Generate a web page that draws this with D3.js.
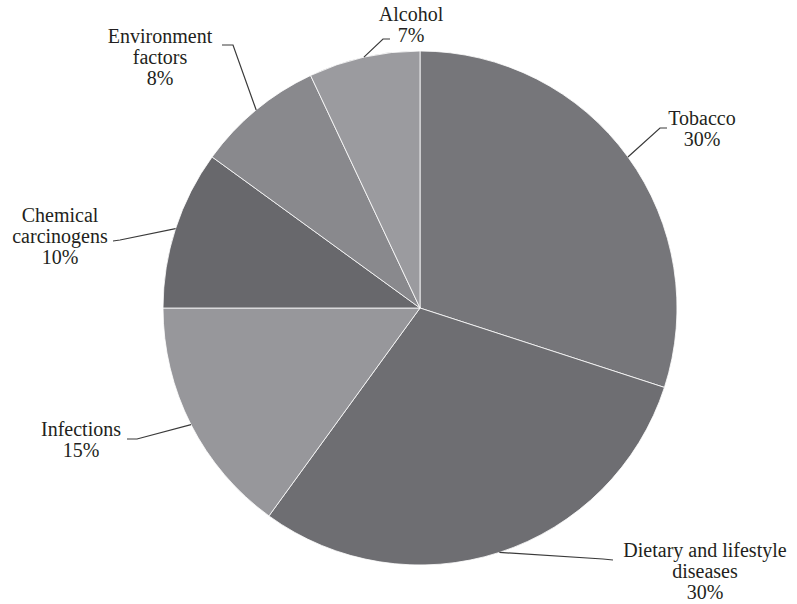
<!DOCTYPE html>
<html>
<head>
<meta charset="utf-8">
<script src="https://cdn.jsdelivr.net/npm/d3@7"></script>
<style>
  html, body { margin: 0; padding: 0; background: #fff; }
  svg text { font-family: "Liberation Serif", "DejaVu Serif", serif; fill: #231f20; }
</style>
</head>
<body>
<svg id="chart" width="797" height="604"></svg>
<script>
// Causes of cancer, share of cases (%)
const categories = ["Tobacco", "Dietary and lifestyle diseases", "Infections", "Chemical carcinogens", "Environment factors", "Alcohol"];
const values = [30, 30, 15, 10, 8, 7];
const labelLines = [
  ["Tobacco"],
  ["Dietary and lifestyle", "diseases"],
  ["Infections"],
  ["Chemical", "carcinogens"],
  ["Environment", "factors"],
  ["Alcohol"]
];
const fills = ["#76767a", "#6e6e72", "#97979b", "#68686c", "#89898d", "#9b9b9f"];

// Label placement: text centre / first baseline and the leader elbow points
const labelLayout = [
  { x: 702, y: 125, elbow: [[660, 128], [667, 128]] },
  { x: 705, y: 557, elbow: [[603, 559], [613, 560]] },
  { x: 81,  y: 436, elbow: [[137, 439], [127, 439]] },
  { x: 60,  y: 222, elbow: [[120, 240], [113, 241]] },
  { x: 160, y: 43,  elbow: [[233, 45], [222, 45]] },
  { x: 411, y: 21,  elbow: [[383, 39], [390, 39]] }
];

const cx = 420, cy = 308, radius = 257;
const svg = d3.select("#chart");
const g = svg.append("g").attr("transform", `translate(${cx},${cy})`);

const pie = d3.pie().sort(null).value(d => d.value);
const arcs = pie(categories.map((c, i) => ({ name: c, value: values[i], i })));
const arc = d3.arc().innerRadius(0).outerRadius(radius);

g.selectAll("path.slice")
  .data(arcs)
  .join("path")
  .attr("class", "slice")
  .attr("d", arc)
  .attr("fill", d => fills[d.data.i])
  .attr("stroke", "#ffffff")
  .attr("stroke-width", 0.8);

const line = d3.line();
arcs.forEach(d => {
  const i = d.data.i;
  const mid = (d.startAngle + d.endAngle) / 2;
  const start = [cx + radius * Math.sin(mid), cy - radius * Math.cos(mid)];
  const L = labelLayout[i];
  svg.append("path")
    .attr("d", line([start, ...L.elbow]))
    .attr("fill", "none")
    .attr("stroke", "#3a3a3a")
    .attr("stroke-width", 1.2);

  const lines = labelLines[i].concat([d.data.value + "%"]);
  lines.forEach((s, k) => {
    svg.append("text")
      .attr("text-anchor", "middle")
      .attr("font-size", 20)
      .attr("x", L.x)
      .attr("y", L.y + k * 21)
      .text(s);
  });
});
</script>
</body>
</html>
